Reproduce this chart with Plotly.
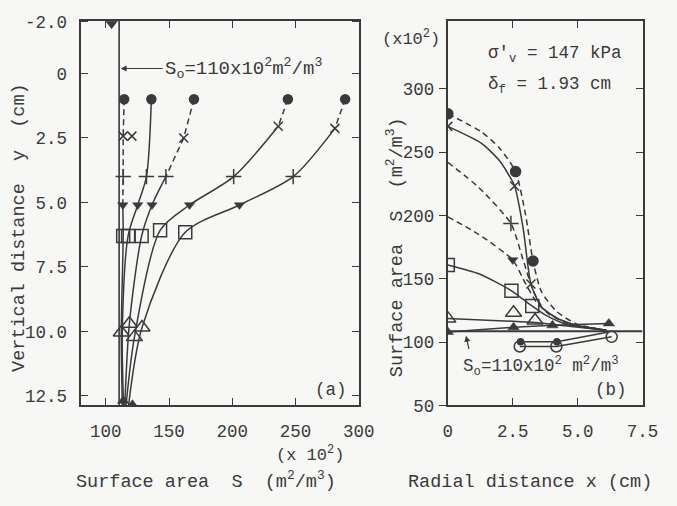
import plotly.graph_objects as go

FONT = "Liberation Mono, Courier New, monospace"
INK = "#3a3a3a"
BG = "#f7f7f5"
NB = "\u00a0"

# ---------------- Panel (a): S (x10^2 m2/m3) versus depth y (cm) ----------------
a_xtick_vals = [100, 150, 200, 250, 300]
a_ytick_vals = [-2.0, 0, 2.5, 5.0, 7.5, 10.0, 12.5]
a_ytick_text = ["-2.0", "0", "2.5", "5.0", "7.5", "10.0", "12.5"]
a_S0 = 110.5

# curves for the five radial positions (x = 0, 2.6, 3.3, 4.0, 6.3 cm)
curve_A_S = [289.3, 281.2, 248.2, 205.7, 162.8, 128.6, 118.0]
curve_A_y = [1.0, 2.13, 4.0, 5.1, 6.16, 9.85, 12.85]
curve_B_S = [244.0, 236.4, 201.1, 166.2, 142.9, 122.6, 116.0]
curve_B_y = [1.0, 2.05, 4.0, 5.1, 6.08, 10.22, 12.85]
curve_C_S = [169.7, 161.6, 147.5, 136.5, 128.3, 118.6, 115.0]
curve_C_y = [1.0, 2.5, 4.0, 5.1, 6.3, 9.7, 12.85]
curve_D_S = [136.0, 132.1, 125.2, 117.6, 113.0, 114.0]
curve_D_y = [1.0, 4.0, 5.1, 6.3, 10.0, 12.85]
curve_E_S = [114.5, 113.7, 113.7, 113.4, 113.7, 112.2, 113.0]
curve_E_y = [1.0, 2.43, 4.0, 5.1, 6.3, 10.04, 12.85]
curve_dashed_points = [2, 2, 3, 1, 4]   # leading points joined by a dashed line

# markers by depth
a_dot_S = [289.3, 244.0, 169.7, 136.0, 114.5]
a_dot_y = [1.0, 1.0, 1.0, 1.0, 1.0]
a_x_S = [281.2, 236.4, 161.6, 120.6, 113.7]
a_x_y = [2.13, 2.05, 2.5, 2.43, 2.43]
a_plus_S = [248.2, 201.1, 147.5, 132.1, 113.7]
a_plus_y = [4.0, 4.0, 4.0, 4.0, 4.0]
a_tdown_S = [205.7, 166.2, 136.5, 125.2, 113.4]
a_tdown_y = [5.1, 5.1, 5.1, 5.1, 5.1]
a_sq_S = [162.8, 142.9, 128.3, 117.6, 113.7]
a_sq_y = [6.16, 6.08, 6.3, 6.3, 6.3]
a_tri_S = [128.6, 122.6, 118.6, 112.2]
a_tri_y = [9.85, 10.22, 9.7, 10.04]
a_tfill_S = [113.7, 121.0]
a_tfill_y = [12.69, 12.84]
a_top_S = [104.5]
a_top_y = [-1.92]

# ---------------- Panel (b): S (x10^2 m2/m3) versus radial distance x (cm) ----------------
b_xtick_vals = [0, 2.5, 5.0, 7.5]
b_xtick_text = ["0", "2.5", "5.0", "7.5"]
b_ytick_vals = [50, 100, 150, 200, 250, 300]
b_S0 = 108.7

b_dot_line_x = [0, 1.3, 2.0, 2.61, 3.0, 3.28, 3.6, 4.2, 5.0, 6.1]
b_dot_line_S = [280.3, 266.0, 253.0, 234.7, 200.0, 164.1, 140.0, 124.0, 114.0, 109.5]
b_dot_x = [0, 2.61, 3.28]
b_dot_S = [280.3, 234.7, 164.1]

b_x_line_x = [0, 1.3, 2.0, 2.57, 2.9, 3.2, 3.6, 4.2, 5.0, 6.1]
b_x_line_S = [270.4, 257.0, 243.0, 223.3, 190.0, 145.9, 128.0, 119.0, 113.0, 109.5]
b_x_x = [0, 2.57, 3.2]
b_x_S = [270.4, 223.3, 145.9]

b_plus_line_x = [0, 1.2, 2.43, 2.9, 3.3, 3.7, 4.3, 5.0, 6.1]
b_plus_line_S = [242.0, 222.0, 193.7, 165.0, 140.0, 126.0, 118.0, 113.0, 109.5]
b_plus_x = [2.43]
b_plus_S = [193.7]

b_tdown_line_x = [0, 1.2, 2.5, 3.0, 3.4, 3.9, 4.6, 6.1]
b_tdown_line_S = [199.0, 185.0, 164.9, 146.0, 132.0, 122.0, 115.0, 109.5]
b_tdown_x = [2.5]
b_tdown_S = [164.9]

b_sq_line_x = [0, 1.2, 2.45, 3.25, 3.8, 4.6, 6.1]
b_sq_line_S = [161.0, 154.0, 140.6, 128.5, 121.0, 114.0, 109.5]
b_sq_x = [0, 2.45, 3.25]
b_sq_S = [161.0, 140.6, 128.5]

b_tri_line_x = [0, 2.5, 3.36, 4.5, 6.1]
b_tri_line_S = [118.6, 116.5, 115.5, 113.0, 109.5]
b_tri_x = [0, 2.53, 3.36]
b_tri_S = [118.6, 123.2, 117.1]

b_tfill_x = [0, 2.53, 4.03, 6.2]
b_tfill_S = [108.0, 111.8, 113.3, 114.8]

b_circ_x = [2.77, 4.18, 6.31]
b_circ_S = [96.6, 96.6, 104.2]

b_smalldot_line_x = [2.8, 4.2, 6.2]
b_smalldot_line_S = [100.4, 100.4, 108.0]
b_smalldot_x = [2.8, 4.2]
b_smalldot_S = [100.4, 100.4]

fig = go.Figure()

DASH = "6px,4px"


def line(x, y, xa, ya, dash="solid", shape="spline", smoothing=0.9, width=1.5):
    fig.add_trace(go.Scatter(x=x, y=y, xaxis=xa, yaxis=ya, mode="lines",
                             line=dict(color=INK, width=width, dash=dash,
                                       shape=shape, smoothing=smoothing),
                             showlegend=False, hoverinfo="skip"))


def marks(x, y, xa, ya, symbol, size, filled=True, lw=1.5):
    fig.add_trace(go.Scatter(x=x, y=y, xaxis=xa, yaxis=ya, mode="markers",
                             marker=dict(symbol=symbol, size=size,
                                         color=INK if filled else BG,
                                         line=dict(color=INK, width=lw)),
                             showlegend=False, hoverinfo="skip"))


# ---- panel (a) lines ----
a_limits = [12.87, -2.05]
line([a_S0, a_S0], a_limits, "x", "y", shape="linear", width=1.6)
curves = [(curve_A_S, curve_A_y), (curve_B_S, curve_B_y), (curve_C_S, curve_C_y),
          (curve_D_S, curve_D_y), (curve_E_S, curve_E_y)]
for (S, y), nd in zip(curves, curve_dashed_points):
    if nd > 1:
        line(S[:nd], y[:nd], "x", "y", dash=DASH, shape="linear")
    line(S[nd - 1:], y[nd - 1:], "x", "y", smoothing=0.8)

marks(a_dot_S, a_dot_y, "x", "y", "circle", 9)
marks(a_x_S, a_x_y, "x", "y", "x-thin-open", 9)
marks(a_plus_S, a_plus_y, "x", "y", "cross-thin-open", 11)
marks(a_tdown_S, a_tdown_y, "x", "y", "triangle-down", 9, lw=0.5)
marks(a_sq_S, a_sq_y, "x", "y", "square-open", 13)
marks(a_tri_S, a_tri_y, "x", "y", "triangle-up-open", 14)
marks(a_tfill_S, a_tfill_y, "x", "y", "triangle-up", 10, lw=0.5)
marks(a_top_S, a_top_y, "x", "y", "triangle-down", 10, lw=0.5)

# ---- panel (b) lines ----
line([0, 7.5], [b_S0, b_S0], "x2", "y2", shape="linear", width=2)
line(b_dot_line_x, b_dot_line_S, "x2", "y2", dash=DASH, smoothing=0.6)
line(b_x_line_x, b_x_line_S, "x2", "y2", smoothing=0.6)
line(b_plus_line_x, b_plus_line_S, "x2", "y2", dash=DASH, smoothing=0.6)
line(b_tdown_line_x, b_tdown_line_S, "x2", "y2", dash=DASH, smoothing=0.6)
line(b_sq_line_x, b_sq_line_S, "x2", "y2", smoothing=0.6)
line(b_tri_line_x, b_tri_line_S, "x2", "y2", smoothing=0.5)
line(b_tfill_x, b_tfill_S, "x2", "y2", shape="linear")
line(b_circ_x, b_circ_S, "x2", "y2", shape="linear")
line(b_smalldot_line_x, b_smalldot_line_S, "x2", "y2", shape="linear")

marks(b_dot_x, b_dot_S, "x2", "y2", "circle", 10)
marks(b_x_x, b_x_S, "x2", "y2", "x-thin-open", 9)
marks(b_plus_x, b_plus_S, "x2", "y2", "cross-thin-open", 11)
marks(b_tdown_x, b_tdown_S, "x2", "y2", "triangle-down", 9, lw=0.5)
marks(b_sq_x, b_sq_S, "x2", "y2", "square-open", 13)
marks(b_tri_x, b_tri_S, "x2", "y2", "triangle-up-open", 14)
marks(b_tfill_x, b_tfill_S, "x2", "y2", "triangle-up", 10, lw=0.5)
marks(b_circ_x, b_circ_S, "x2", "y2", "circle-open", 11)
marks(b_smalldot_x, b_smalldot_S, "x2", "y2", "circle", 6)

# empty trace so the inner right-hand tick axis of panel (b) is drawn
fig.add_trace(go.Scatter(x=[], y=[], xaxis="x2", yaxis="y3", showlegend=False))

W, H = 677, 506
tickfont = dict(family=FONT, size=17.5, color=INK)
axis_common = dict(showgrid=False, zeroline=False, showline=True, linecolor=INK,
                   linewidth=2, tickcolor=INK, tickwidth=1.3, ticklen=7,
                   tickfont=tickfont)

fig.update_layout(
    width=W, height=H, margin=dict(l=0, r=0, t=0, b=0),
    paper_bgcolor=BG, plot_bgcolor=BG, showlegend=False,
    font=dict(family=FONT, color=INK, size=17.5),
    xaxis=dict(domain=[78 / W, 365 / W], range=[80, 300], anchor="y",
               tickvals=a_xtick_vals, ticks="inside", mirror="ticks",
               ticklabelstandoff=9, **axis_common),
    yaxis=dict(domain=[1 - 413 / H, 1 - 13 / H], range=a_limits, anchor="x",
               tickvals=a_ytick_vals, ticktext=a_ytick_text, ticks="inside",
               mirror="ticks", ticklabelstandoff=8, **axis_common),
    xaxis2=dict(domain=[457 / W, 658 / W], range=[0, 7.5], anchor="y2",
                tickvals=b_xtick_vals, ticktext=b_xtick_text, ticks="inside",
                mirror="ticks", ticklabelstandoff=9, **axis_common),
    yaxis2=dict(domain=[1 - 413 / H, 1 - 13 / H], range=[50, 354], anchor="x2",
                tickvals=b_ytick_vals, ticks="outside", mirror=True,
                ticklabelstandoff=1, **axis_common),
    yaxis3=dict(overlaying="y2", anchor="x2", side="right", range=[50, 354],
                tickvals=b_ytick_vals[1:], ticks="inside", showticklabels=False,
                showgrid=False, zeroline=False, showline=False, tickcolor=INK,
                tickwidth=1.3, ticklen=7),
)

ann = []


def text(s, x, y, size=17.5, angle=0, xanchor="center", yanchor="middle"):
    ann.append(dict(text=s, x=x, y=y, xref="paper", yref="paper", showarrow=False,
                    textangle=angle, xanchor=xanchor, yanchor=yanchor,
                    font=dict(family=FONT, size=size, color=INK)))


text(f"Vertical distance{NB}{NB}y{NB}{NB}(cm)", 15 / W, 1 - 228 / H, size=18.5, angle=-90)
text(f"Surface area{NB}{NB}S{NB}{NB}(m<sup>2</sup>/m<sup>3</sup>)", 403 / W, 1 - 248 / H,
     size=18.5, angle=-90)
text(f"Surface area{NB}{NB}S{NB}{NB}(m<sup>2</sup>/m<sup>3</sup>)", 207 / W, 0.0, size=18.5,
     yanchor="bottom")
text("Radial distance x (cm)", 542 / W, 0.0, size=18.5, yanchor="bottom")
text("(x 10<sup>2</sup>)", 315 / W, 1 - 463 / H, size=17)
text("(x10<sup>2</sup>)", 419 / W, 1 - 31 / H, size=17)
text("(a)", 336 / W, 1 - 397 / H, size=17.5)
text("(b)", 625 / W, 1 - 397 / H, size=17.5)
text("σ'<sub>v</sub> = 147 kPa", 496 / W, 1 - 48 / H, size=17.5, xanchor="left")
text("δ<sub>f</sub> = 1.93 cm", 496 / W, 1 - 81 / H, size=17.5, xanchor="left")
text("S<sub>o</sub>=110x10<sup>2</sup> m<sup>2</sup>/m<sup>3</sup>", 553 / W, 1 - 372 / H, size=17.5)

# S0 pointer in panel (a)
ann.append(dict(text="S<sub>o</sub>=110x10<sup>2</sup>m<sup>2</sup>/m<sup>3</sup>",
                x=a_S0 + 1.2, y=-0.19, xref="x", yref="y", showarrow=True,
                ax=42, ay=0, xanchor="left", yanchor="middle", arrowhead=2,
                arrowsize=1, arrowwidth=1.2, arrowcolor=INK, standoff=0,
                font=dict(family=FONT, size=19, color=INK)))
# S0 pointer in panel (b)
ann.append(dict(text=" ", x=0.7, y=105, xref="x2", yref="y2", showarrow=True,
                ax=4, ay=18, arrowhead=2, arrowsize=1, arrowwidth=1.2,
                arrowcolor=INK, standoff=0, font=dict(family=FONT, size=6)))

fig.update_layout(annotations=ann)
fig.write_html("out.html")
